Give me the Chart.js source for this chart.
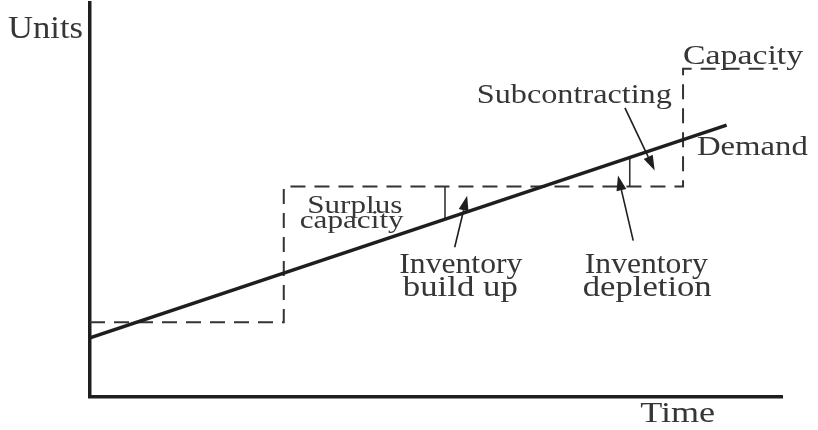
<!DOCTYPE html>
<html>
<head>
<meta charset="utf-8">
<script src="https://cdn.jsdelivr.net/npm/chart.js@4/dist/chart.umd.min.js"></script>
<style>
  html, body { margin: 0; padding: 0; background: #ffffff; }
  #wrap { width: 818px; height: 430px; }
</style>
</head>
<body>
<div id="wrap"><canvas id="c" width="818" height="430"></canvas></div>
<script>
// ---- data (time 0..100, units 0..100) ----
const demandTime = [0, 92];
const demandUnits = [15, 69];

const capacityTime = [0, 28, 85.7, 99.4];
const capacityUnits = [19, 53.4, 83.3, 83.3];

const markTime = [51.3, 78.0];
const markLow = [45.1, 53.4];
const markHigh = [53.4, 60.8];

const arrowTailTime = [52.7, 78.5, 77.3];
const arrowTailUnits = [38.0, 39.7, 73.4];
const arrowTipTime = [54.5, 76.3, 81.6];
const arrowTipUnits = [51.1, 56.2, 57.5];

const labelTexts = ['Units', 'Capacity', 'Subcontracting', 'Demand', 'Surplus', 'capacity',
                    'Inventory', 'build up', 'Inventory', 'depletion', 'Time'];
const labelTime = [-11.85, 85.7, 55.9, 87.7, 31.4, 30.3, 44.7, 45.2, 71.5, 71.2, 79.5];
const labelUnits = [91.1, 84.6, 74.7, 61.3, 46.8, 42.8, 31.4, 25.6, 31.4, 25.6, -6.3];

// ---- build datasets ----
const toPts = (xs, ys) => xs.map((x, i) => ({ x: x, y: ys[i] }));

const datasets = [
  {
    label: 'Demand',
    data: toPts(demandTime, demandUnits),
    borderColor: '#1e1e1e', borderWidth: 3.5, pointRadius: 0, fill: false, tension: 0
  },
  {
    label: 'Capacity',
    data: toPts(capacityTime, capacityUnits),
    stepped: 'before',
    borderColor: '#333333', borderWidth: 2, borderDash: [15, 9], pointRadius: 0, fill: false
  }
];
markTime.forEach((t, i) => {
  datasets.push({
    label: 'mark' + i,
    data: [{ x: t, y: markLow[i] }, { x: t, y: markHigh[i] }],
    borderColor: '#333333', borderWidth: 1.6, pointRadius: 0, fill: false
  });
});

const annotate = {
  id: 'annotate',
  afterDatasetsDraw(chart) {
    const ctx = chart.ctx;
    const xs = chart.scales.x, ys = chart.scales.y;
    // arrows
    ctx.save();
    ctx.strokeStyle = '#1e1e1e';
    ctx.fillStyle = '#1e1e1e';
    ctx.lineWidth = 1.6;
    arrowTailTime.forEach((t, i) => {
      const x1 = xs.getPixelForValue(t), y1 = ys.getPixelForValue(arrowTailUnits[i]);
      const x2 = xs.getPixelForValue(arrowTipTime[i]), y2 = ys.getPixelForValue(arrowTipUnits[i]);
      const ang = Math.atan2(y2 - y1, x2 - x1);
      const hl = 15, hw = 5;
      const bx = x2 - hl * Math.cos(ang), by = y2 - hl * Math.sin(ang);
      ctx.beginPath();
      ctx.moveTo(x1, y1);
      ctx.lineTo(bx, by);
      ctx.stroke();
      ctx.beginPath();
      ctx.moveTo(x2, y2);
      ctx.lineTo(bx + hw * Math.sin(ang), by - hw * Math.cos(ang));
      ctx.lineTo(bx - hw * Math.sin(ang), by + hw * Math.cos(ang));
      ctx.closePath();
      ctx.fill();
    });
    ctx.restore();

    // labels
    const sizes = [31, 28, 28, 28, 25, 25, 30, 30, 30, 30, 29];
    const widths = [75, 120, 195, 111, 95, 104, 123, 115, 123, 129, 75];
    ctx.save();
    ctx.fillStyle = '#363636';
    ctx.textBaseline = 'alphabetic';
    ctx.textAlign = 'left';
    labelTexts.forEach((txt, i) => {
      ctx.font = sizes[i] + 'px "Liberation Serif", "Times New Roman", Times, serif';
      const w = ctx.measureText(txt).width;
      const px = xs.getPixelForValue(labelTime[i]);
      const py = ys.getPixelForValue(labelUnits[i]);
      ctx.save();
      ctx.translate(px, py);
      ctx.scale(widths[i] / w, 1);
      ctx.fillText(txt, 0, 0);
      ctx.restore();
    });
    ctx.restore();
  }
};

new Chart(document.getElementById('c'), {
  type: 'line',
  data: { datasets: datasets },
  options: {
    responsive: false,
    animation: false,
    events: [],
    layout: { padding: { left: 90, right: 36, top: 3, bottom: 33 } },
    plugins: { legend: { display: false }, tooltip: { enabled: false } },
    scales: {
      x: {
        type: 'linear', min: 0, max: 100,
        grid: { display: false, drawTicks: false },
        ticks: { display: false },
        border: { display: true, color: '#1e1e1e', width: 3.5 }
      },
      y: {
        type: 'linear', min: 0, max: 100,
        grid: { display: false, drawTicks: false },
        ticks: { display: false },
        border: { display: true, color: '#1e1e1e', width: 3.5 }
      }
    }
  },
  plugins: [annotate]
});
</script>
</body>
</html>
